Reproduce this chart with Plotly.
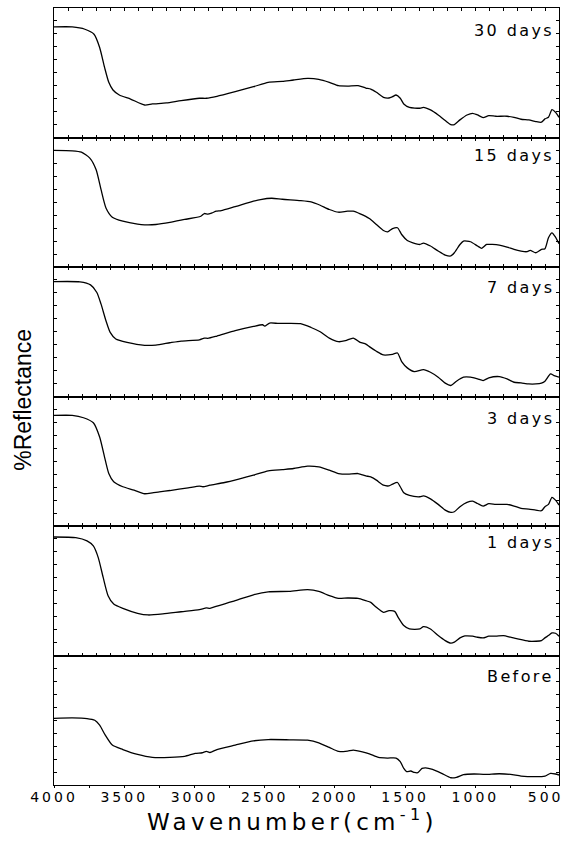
import plotly.graph_objects as go
from plotly.subplots import make_subplots

# ---- spectra: wavenumber (cm^-1) and relative reflectance (per-panel scale 0-100) ----
wn_30 = [4000, 3870, 3780, 3715, 3675, 3640, 3610, 3580, 3535, 3455,
         3355, 3300, 3200, 3095, 2965, 2915, 2840, 2710, 2580, 2475,
         2375, 2295, 2195, 2115, 2040, 1975, 1910, 1835, 1780, 1745,
         1705, 1655, 1615, 1590, 1565, 1535, 1510, 1470, 1395, 1370,
         1320, 1265, 1215, 1175, 1150, 1110, 1060, 1020, 985, 945,
         905, 855, 775, 725, 675, 620, 570, 530, 505, 480,
         455, 430, 405]
r_30 = [85.4, 85.4, 83.6, 79.7, 69.5, 54.1, 42.6, 36.7, 32.8, 29.7,
        25.1, 25.9, 26.7, 28.5, 30.3, 30.3, 31.8, 35.4, 39.2, 42.6,
        43.3, 44.4, 45.6, 44.9, 42.6, 40.0, 39.7, 40.0, 38.2, 37.4,
        34.9, 31.0, 30.5, 31.5, 32.8, 30.3, 25.9, 23.3, 22.6, 23.3,
        21.3, 17.4, 13.1, 10.0, 10.0, 13.6, 17.4, 18.7, 17.4, 15.4,
        16.9, 16.4, 16.4, 15.6, 14.1, 13.6, 12.3, 11.8, 14.4, 15.6,
        21.5, 19.5, 15.6]

wn_15 = [4000, 3870, 3805, 3745, 3700, 3665, 3630, 3585, 3510, 3405,
         3355, 3275, 3175, 3070, 2955, 2930, 2905, 2875, 2845, 2810,
         2710, 2580, 2530, 2450, 2375, 2245, 2170, 2105, 2040, 1975,
         1910, 1870, 1820, 1755, 1705, 1655, 1625, 1590, 1555, 1525,
         1485, 1445, 1395, 1370, 1320, 1265, 1215, 1175, 1150, 1110,
         1085, 1035, 985, 955, 920, 880, 830, 775, 725, 675,
         635, 610, 570, 530, 505, 480, 455, 430, 405]
r_15 = [90.0, 89.7, 88.7, 84.1, 75.1, 59.7, 45.6, 38.5, 35.4, 33.1,
        32.6, 32.8, 34.4, 36.7, 39.2, 41.3, 40.8, 41.8, 43.1, 43.6,
        46.7, 50.8, 52.1, 53.1, 52.3, 51.3, 50.3, 47.7, 44.4, 42.3,
        43.1, 43.1, 41.0, 37.4, 32.8, 28.2, 27.2, 29.7, 30.3, 25.1,
        20.5, 18.7, 17.4, 18.5, 16.2, 12.3, 9.2, 8.5, 11.0, 17.4,
        20.0, 19.5, 16.2, 14.4, 17.4, 17.4, 16.9, 15.4, 13.6, 12.3,
        11.8, 12.8, 11.0, 13.6, 14.1, 22.6, 26.4, 23.1, 18.0]

wn_7 = [4000, 3815, 3740, 3695, 3665, 3630, 3600, 3560, 3480, 3355,
        3275, 3175, 3095, 2965, 2930, 2905, 2840, 2710, 2580, 2515,
        2500, 2465, 2400, 2245, 2170, 2105, 2040, 1975, 1925, 1870,
        1820, 1780, 1755, 1705, 1655, 1590, 1555, 1525, 1485, 1435,
        1370, 1320, 1265, 1215, 1175, 1135, 1085, 1035, 985, 945,
        905, 830, 775, 725, 675, 620, 570, 530, 505, 465,
        440, 405]
r_7 = [88.7, 88.5, 86.2, 80.3, 71.3, 58.5, 49.5, 44.4, 41.8, 39.5,
       39.7, 41.5, 42.8, 43.8, 45.1, 44.9, 46.7, 50.8, 54.1, 55.4,
       54.4, 56.7, 56.4, 56.2, 53.3, 50.0, 45.1, 42.3, 43.1, 45.1,
       41.8, 40.5, 38.5, 34.9, 32.1, 32.6, 33.6, 26.9, 22.1, 19.2,
       20.8, 18.7, 14.9, 10.3, 8.5, 11.8, 14.9, 14.9, 13.6, 12.3,
       14.4, 15.4, 13.6, 11.0, 10.5, 9.7, 9.7, 10.3, 11.8, 17.4,
       16.2, 14.9]

wn_3 = [4000, 3870, 3790, 3720, 3675, 3635, 3610, 3575, 3510, 3430,
        3355, 3300, 3250, 3175, 3045, 2965, 2940, 2890, 2785, 2685,
        2580, 2475, 2375, 2295, 2195, 2115, 2040, 1975, 1910, 1835,
        1780, 1745, 1705, 1655, 1615, 1590, 1555, 1535, 1510, 1470,
        1395, 1370, 1320, 1265, 1215, 1175, 1150, 1110, 1060, 1020,
        985, 945, 905, 855, 775, 725, 675, 620, 570, 530,
        505, 480, 455, 430, 405]
r_3 = [85.4, 85.4, 83.6, 79.7, 68.7, 50.8, 40.5, 34.1, 30.3, 27.7,
       24.9, 25.6, 26.4, 27.4, 29.5, 30.8, 30.3, 31.5, 33.6, 36.2,
       39.2, 42.6, 43.6, 44.4, 46.2, 45.6, 43.1, 40.5, 40.0, 40.5,
       38.7, 37.9, 35.4, 31.5, 31.0, 32.3, 33.6, 30.3, 25.6, 23.6,
       22.6, 23.3, 21.0, 16.7, 12.3, 10.5, 11.0, 14.9, 18.2, 19.2,
       17.4, 15.4, 17.2, 16.7, 16.7, 15.4, 13.6, 13.1, 12.3, 11.8,
       14.9, 16.7, 22.1, 20.0, 16.2]

wn_1 = [4000, 3845, 3765, 3720, 3685, 3650, 3615, 3575, 3510, 3405,
        3330, 3225, 3095, 2965, 2915, 2890, 2840, 2710, 2580, 2475,
        2325, 2195, 2115, 2040, 1975, 1910, 1835, 1780, 1745, 1705,
        1655, 1615, 1575, 1550, 1510, 1470, 1395, 1370, 1320, 1265,
        1215, 1175, 1150, 1110, 1075, 1020, 985, 945, 905, 855,
        800, 750, 700, 620, 570, 530, 505, 480, 455, 430,
        405]
r_1 = [91.5, 91.0, 88.5, 84.6, 75.6, 60.3, 46.2, 39.7, 36.4, 32.6,
       31.3, 32.1, 33.8, 35.4, 36.7, 36.4, 38.2, 42.3, 46.9, 49.2,
       49.5, 50.8, 49.5, 46.2, 44.1, 44.4, 44.1, 42.3, 41.0, 37.2,
       33.3, 34.6, 34.1, 29.5, 23.1, 20.5, 20.5, 22.3, 20.5, 15.4,
       11.5, 9.5, 10.3, 13.6, 15.1, 14.9, 14.1, 13.6, 14.9, 14.9,
       15.4, 14.1, 12.8, 11.0, 11.0, 11.5, 13.6, 15.4, 17.4, 17.2,
       14.9]

wn_0 = [4000, 3870, 3765, 3710, 3675, 3635, 3585, 3510, 3405, 3300,
        3175, 3070, 2995, 2945, 2915, 2890, 2840, 2710, 2580, 2475,
        2325, 2195, 2115, 2040, 1975, 1910, 1870, 1805, 1755, 1690,
        1625, 1565, 1535, 1510, 1490, 1460, 1435, 1410, 1380, 1355,
        1305, 1240, 1175, 1135, 1085, 1010, 930, 830, 750, 675,
        570, 505, 465, 430, 405]
r_0 = [51.5, 51.8, 51.3, 50.0, 46.2, 38.5, 30.8, 27.4, 23.6, 21.3,
       21.3, 22.1, 24.4, 24.9, 25.9, 25.1, 27.4, 30.8, 34.1, 35.1,
       34.9, 34.6, 32.6, 29.0, 25.9, 26.2, 26.9, 25.6, 24.1, 21.3,
       20.8, 20.8, 18.0, 12.8, 10.3, 10.8, 9.7, 9.5, 12.8, 13.3,
       12.1, 9.0, 5.6, 5.9, 8.0, 8.5, 8.2, 8.7, 8.2, 6.9,
       6.4, 6.9, 9.0, 8.5, 7.7]

panel_labels = ["30 days", "15 days", "7 days", "3 days", "1 days", "Before"]
panel_wn = [wn_30, wn_15, wn_7, wn_3, wn_1, wn_0]
panel_r = [r_30, r_15, r_7, r_3, r_1, r_0]
# vertical position of each label inside its panel (fraction of panel height)
label_pos = [0.83, 0.86, 0.84, 0.83, 0.87, 0.84]

tick_vals = [4000, 3500, 3000, 2500, 2000, 1500, 1000, 500]
minor_vals = [3750, 3250, 2750, 2250, 1750, 1250, 750]
x_range = [4000, 405]


def spaced(text, px):
    return f'<span style="letter-spacing:{px}px">{text}</span>'


fig = make_subplots(rows=6, cols=1, vertical_spacing=0)

for i, (wn, r) in enumerate(zip(panel_wn, panel_r), start=1):
    fig.add_trace(
        go.Scatter(x=wn, y=r, mode="lines",
                   line=dict(color="black", width=1.3, shape="spline", smoothing=0.6),
                   showlegend=False, hoverinfo="skip"),
        row=i, col=1)
    fig.update_yaxes(range=[0, 100], showline=True, linecolor="black", linewidth=1,
                     mirror="ticks", ticks="inside", ticklen=3, tickcolor="black",
                     dtick=10, tick0=0, showticklabels=False, showgrid=False,
                     zeroline=False, row=i, col=1)
    if i < 6:
        fig.update_xaxes(range=x_range, showline=True, linecolor="black", linewidth=1,
                         mirror="ticks", ticks="inside", ticklen=3, tickcolor="black",
                         dtick=100, tick0=0, showticklabels=False, showgrid=False,
                         zeroline=False, row=i, col=1)
    else:
        fig.update_xaxes(range=x_range, showline=True, linecolor="black", linewidth=1,
                         mirror=True, ticks="outside", ticklen=2, tickcolor="black",
                         tickmode="array", tickvals=tick_vals,
                         ticktext=[spaced(v, 3) for v in tick_vals],
                         tickfont=dict(family="DejaVu Sans", size=14, color="black"),
                         ticklabelstandoff=-3,
                         minor=dict(tickmode="array", tickvals=minor_vals,
                                    ticks="outside", ticklen=2, tickcolor="black"),
                         showgrid=False, zeroline=False, row=i, col=1)

annotations = []
for i, (lab, pos) in enumerate(zip(panel_labels, label_pos), start=1):
    yref = "y domain" if i == 1 else f"y{i} domain"
    annotations.append(dict(
        text=spaced(lab, 2.4), x=0.994, xref="paper", xanchor="right",
        y=pos, yref=yref, yanchor="middle", showarrow=False,
        font=dict(family="DejaVu Sans", size=16, color="black")))

annotations.append(dict(
    text="%Reflectance", textangle=-90, x=-0.063, xref="paper", xanchor="center",
    y=0.496, yref="paper", yanchor="middle", showarrow=False,
    font=dict(family="Liberation Sans", size=23, color="black")))

annotations.append(dict(
    text=spaced("Wavenumber(cm<sup>-1</sup>)", 4.3), x=0.472, xref="paper",
    xanchor="center", y=-0.045, yref="paper", yanchor="middle", showarrow=False,
    font=dict(family="DejaVu Sans", size=23, color="black")))

fig.update_layout(
    width=570, height=841,
    margin=dict(l=54, r=8, t=7, b=56),
    paper_bgcolor="white", plot_bgcolor="white",
    annotations=annotations,
    font=dict(family="Liberation Sans", color="black"),
)

fig.write_html("out.html")
